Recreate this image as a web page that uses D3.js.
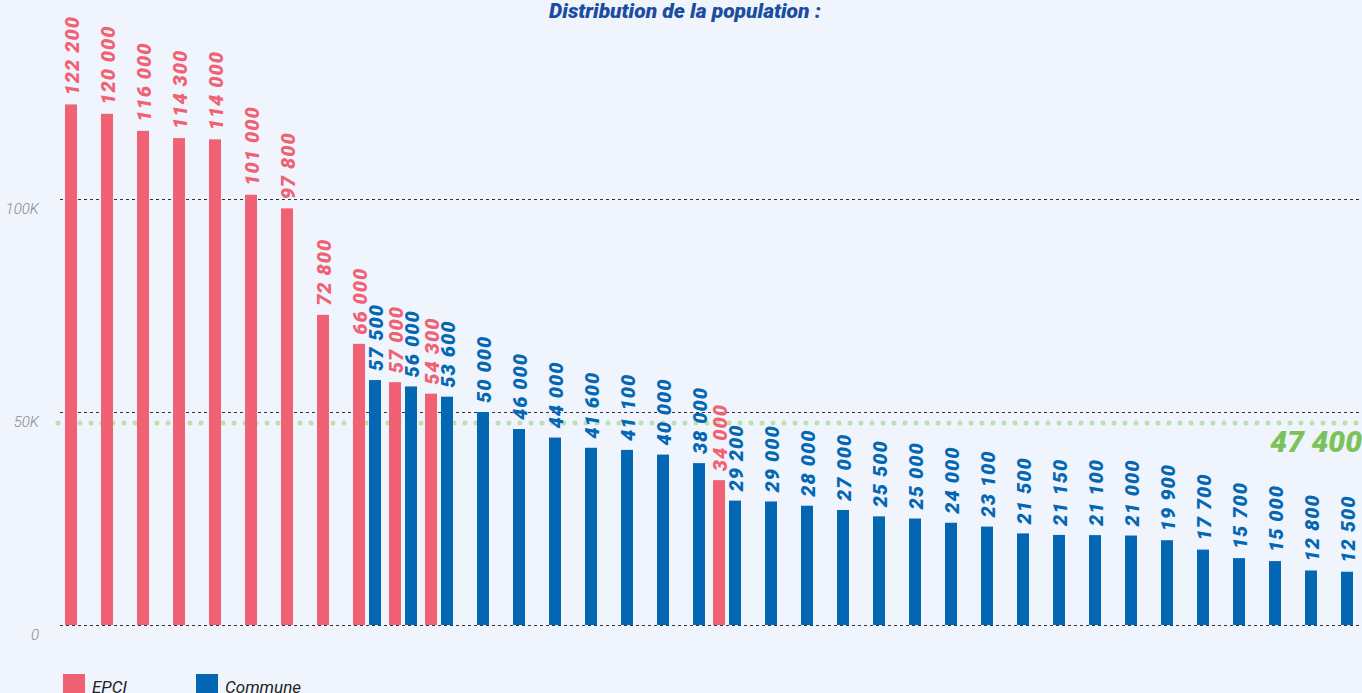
<!DOCTYPE html>
<html>
<head>
<meta charset="utf-8">
<script src="https://cdn.jsdelivr.net/npm/d3@7"></script>
<style>
    body { margin: 0; background: #f0f4fc; overflow: hidden; }
    svg { display: block; font-family: Roboto, "Noto Sans", sans-serif; }
    .grid line { stroke: #333; stroke-width: 1; stroke-dasharray: 3,3; }
    .tick-label { fill: #888; font-size: 15px; font-style: italic; font-weight: 300; }
    .value { font-size: 20px; font-weight: 900; font-style: italic; letter-spacing: 1px; }
</style>
</head>
<body>
<svg width="1362" height="693"></svg>
<script>
// One slot per bar position, two series share the slots
var epci = [122200, 120000, 116000, 114300, 114000, 101000, 97800, 72800, 66000, 57000, 54300,
    null, null, null, null, null, null, null, 34000,
    null, null, null, null, null, null, null, null, null, null, null, null, null, null, null, null, null];
var commune = [null, null, null, null, null, null, null, null, 57500, 56000, 53600,
    50000, 46000, 44000, 41600, 41100, 40000, 38000, 29200,
    29000, 28000, 27000, 25500, 25000, 24000, 23100, 21500, 21150, 21100, 21000, 19900, 17700, 15700, 15000, 12800, 12500];
var seriesNames = ["EPCI", "Commune"];
var seriesColors = ["#f06273", "#0467b4"];
var yTicks = [0, 50000, 100000];
var yTickLabels = ["0", "50K", "100K"];
var average = 47400;
var title = "Distribution de la population :";

var svg = d3.select("svg"),
    width = +svg.attr("width"),
    height = +svg.attr("height");

var data = epci.map(function(d, i) {
    return { slot: i, EPCI: d, Commune: commune[i] };
});

var x0 = d3.scaleBand()
    .domain(d3.range(data.length))
    .range([65, 65 + 36 * data.length]);

var x1 = d3.scaleBand()
    .domain(seriesNames)
    .range([0, 28])
    .paddingInner(0.25);

var y = d3.scaleLinear()
    .domain([0, 100000])
    .range([625, 199]);

var color = d3.scaleOrdinal().domain(seriesNames).range(seriesColors);

function fmt(v) {
    return d3.format(",")(v).replace(/,/g, " ");
}

// grid lines
var grid = svg.append("g").attr("class", "grid");
grid.selectAll("line")
    .data(yTicks)
    .enter().append("line")
    .attr("x1", 60)
    .attr("x2", width)
    .attr("y1", function(d) { return Math.round(y(d)) + 0.5; })
    .attr("y2", function(d) { return Math.round(y(d)) + 0.5; });

svg.append("g").selectAll("text")
    .data(yTicks)
    .enter().append("text")
    .attr("class", "tick-label")
    .attr("x", 39)
    .attr("y", function(d) { return y(d) + 15; })
    .attr("text-anchor", "end")
    .text(function(d, i) { return yTickLabels[i]; });

// average line
svg.append("line")
    .attr("x1", 58)
    .attr("x2", width)
    .attr("y1", y(average))
    .attr("y2", y(average))
    .attr("stroke", "#bce0ae")
    .attr("stroke-width", 5)
    .attr("stroke-linecap", "round")
    .attr("stroke-dasharray", "0,11");

// bars
var bars = [];
data.forEach(function(d) {
    seriesNames.forEach(function(k) {
        if (d[k] != null) bars.push({ slot: d.slot, key: k, value: d[k] });
    });
});

svg.append("g").selectAll("rect")
    .data(bars)
    .enter().append("rect")
    .attr("x", function(d) { return x0(d.slot) + x1(d.key); })
    .attr("y", function(d) { return y(d.value); })
    .attr("width", x1.bandwidth())
    .attr("height", function(d) { return y(0) - y(d.value); })
    .attr("fill", function(d) { return color(d.key); });

svg.append("g").selectAll("text")
    .data(bars)
    .enter().append("text")
    .attr("class", "value")
    .attr("fill", function(d) { return color(d.key); })
    .attr("transform", function(d) {
        var cx = x0(d.slot) + x1(d.key) + x1.bandwidth() / 2 + 7.5;
        return "translate(" + cx + "," + (y(d.value) - 9) + ") rotate(-90)";
    })
    .text(function(d) { return fmt(d.value); });

// average label
svg.append("text")
    .attr("x", width)
    .attr("y", 452)
    .attr("text-anchor", "end")
    .attr("fill", "#7ac35a")
    .style("font-size", "30px")
    .style("font-weight", 900)
    .style("font-style", "italic")
    .text(fmt(average));

// title
svg.append("text")
    .attr("x", 685)
    .attr("y", 18)
    .attr("text-anchor", "middle")
    .attr("fill", "#1a4da0")
    .style("font-size", "21px")
    .style("font-weight", 900)
    .style("font-style", "italic")
    .text(title);

// legend
var legend = svg.append("g").selectAll("g")
    .data(seriesNames)
    .enter().append("g")
    .attr("transform", function(d, i) { return "translate(" + (63 + i * 133) + ",674)"; });

legend.append("rect")
    .attr("width", 22)
    .attr("height", 22)
    .attr("fill", function(d) { return color(d); });

legend.append("text")
    .attr("x", 29)
    .attr("y", 19)
    .attr("fill", "#222")
    .style("font-size", "17px")
    .style("font-style", "italic")
    .text(function(d) { return d; });
</script>
</body>
</html>
